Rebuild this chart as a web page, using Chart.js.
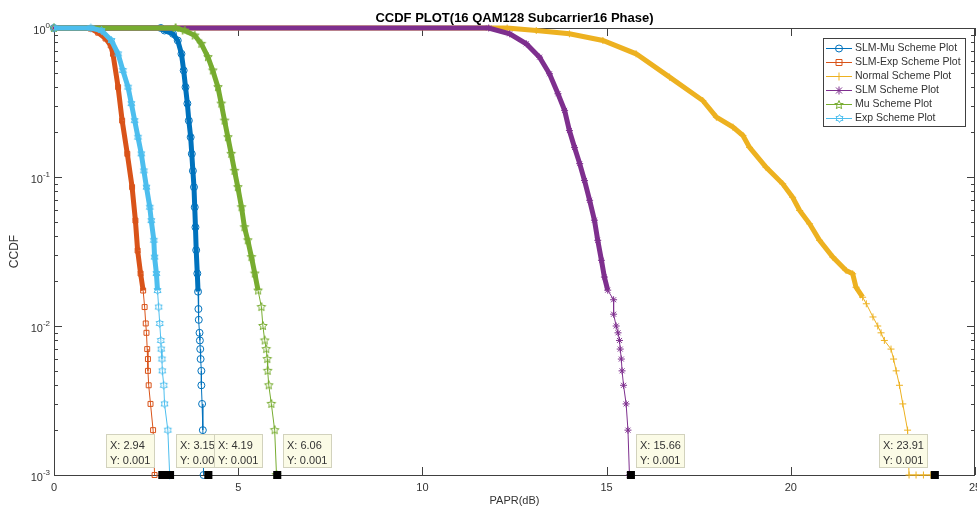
<!DOCTYPE html>
<html>
<head>
<meta charset="utf-8">
<title>CCDF PLOT</title>
<script src="https://cdn.jsdelivr.net/npm/chart.js"></script>
<style>
  html, body { margin: 0; padding: 0; background: #fff; }
  #chart { display: block; }
</style>
</head>
<body>
<canvas id="chart" width="977" height="512"></canvas>
<script>
// Values (PAPR in dB, CCDF as probability)
const seriesNames = ['SLM-Mu Scheme Plot', 'SLM-Exp Scheme Plot', 'Normal Scheme Plot',
                     'SLM Scheme Plot', 'Mu Scheme Plot', 'Exp Scheme Plot'];

const slmMuX = [0, 2.9, 3.00, 3.23, 3.36, 3.46, 3.52, 3.57, 3.62, 3.66, 3.71, 3.74, 3.77, 3.80, 3.82, 3.84,
                3.86, 3.89, 3.91, 3.92, 3.93, 3.95, 3.96, 3.97, 3.98, 4.00, 4.00, 4.02, 4.04, 4.06];
const slmMuY = [1, 1, 0.962, 0.914, 0.824, 0.671, 0.519, 0.401, 0.311, 0.239, 0.185, 0.143, 0.11, 0.0855, 0.0627, 0.046,
                0.0323, 0.0225, 0.017, 0.013, 0.011, 0.009, 0.008, 0.007, 0.006, 0.005, 0.004, 0.003, 0.002, 0.001];

const slmExpX = [0, 0.9, 1.0, 1.2, 1.4, 1.54, 1.60, 1.74, 1.85, 1.99, 2.12, 2.21, 2.27, 2.35, 2.42, 2.46,
                 2.49, 2.51, 2.53, 2.55, 2.55, 2.57, 2.62, 2.69, 2.73];
const slmExpY = [1, 1, 0.99, 0.93, 0.85, 0.763, 0.671, 0.401, 0.239, 0.143, 0.0855, 0.051, 0.0321, 0.0225, 0.0173, 0.0134,
                 0.0104, 0.009, 0.007, 0.006, 0.005, 0.004, 0.003, 0.002, 0.001];

const normalX = [0, 12.3, 13.09, 13.99, 14.90, 15.80, 16.71, 17.61, 17.98, 18.43, 18.70, 18.88, 19.33, 19.78, 20.05,
                 20.24, 20.51, 20.78, 21.14, 21.50, 21.68, 21.77, 21.95, 22.05, 22.23, 22.36, 22.45, 22.54, 22.72,
                 22.79, 22.86, 22.95, 23.04, 23.17, 23.21, 23.40, 23.60, 23.80];
const normalY = [1, 1, 0.962, 0.914, 0.824, 0.671, 0.468, 0.326, 0.252, 0.216, 0.19, 0.158, 0.116, 0.09, 0.0731,
                 0.0596, 0.0485, 0.0376, 0.029, 0.0236, 0.0224, 0.0182, 0.0156, 0.0141, 0.0115, 0.01, 0.009, 0.008, 0.007,
                 0.006, 0.005, 0.004, 0.003, 0.002, 0.001, 0.001, 0.001, 0.001];

const slmX = [0, 11.8, 12.37, 12.82, 13.18, 13.45, 13.68, 13.86, 13.99, 14.13, 14.27, 14.40, 14.54, 14.67, 14.76,
              14.86, 14.94, 15.03, 15.19, 15.19, 15.26, 15.31, 15.35, 15.37, 15.40, 15.42, 15.46, 15.53, 15.58, 15.62];
const slmY = [1, 1, 0.914, 0.783, 0.637, 0.493, 0.362, 0.28, 0.205, 0.158, 0.123, 0.0948, 0.0698, 0.0513, 0.0376,
              0.0276, 0.0213, 0.0174, 0.015, 0.012, 0.01, 0.009, 0.008, 0.007, 0.006, 0.005, 0.004, 0.003, 0.002, 0.001];

const muX = [0, 3.3, 3.55, 3.82, 4.00, 4.18, 4.31, 4.45, 4.54, 4.63, 4.72, 4.81, 4.90, 4.99, 5.09, 5.17,
             5.26, 5.36, 5.45, 5.54, 5.63, 5.67, 5.72, 5.76, 5.79, 5.80, 5.83, 5.90, 5.99, 6.04];
const muY = [1, 1, 0.962, 0.89, 0.783, 0.637, 0.519, 0.401, 0.311, 0.239, 0.185, 0.143, 0.11, 0.0855, 0.0627, 0.046,
             0.0376, 0.029, 0.0225, 0.0173, 0.0134, 0.01, 0.008, 0.007, 0.006, 0.005, 0.004, 0.003, 0.002, 0.001];

const expX = [0, 1.0, 1.29, 1.56, 1.74, 1.87, 2.01, 2.10, 2.19, 2.28, 2.37, 2.44, 2.51, 2.60, 2.64, 2.71,
              2.73, 2.78, 2.81, 2.84, 2.87, 2.90, 2.91, 2.93, 2.94, 2.98, 3.00, 3.09, 3.14];
const expY = [1, 1, 0.962, 0.824, 0.671, 0.519, 0.401, 0.311, 0.239, 0.185, 0.143, 0.11, 0.0855, 0.0627, 0.051, 0.0376,
              0.029, 0.0225, 0.0173, 0.0134, 0.0104, 0.008, 0.007, 0.006, 0.005, 0.004, 0.003, 0.002, 0.001];

// data tips shown on the figure
const tipX = [2.94, 3.15, 4.19, 6.06, 15.66, 23.91];
const tipY = [0.001, 0.001, 0.001, 0.001, 0.001, 0.001];

const xTickValues = [0, 5, 10, 15, 20, 25];
const yDecades = [1, 0.1, 0.01, 0.001];
const yExponents = ['0', '-1', '-2', '-3'];

// Styles (MATLAB default colour order)
const colors = ['#0072BD', '#D95319', '#EDB120', '#7E2F8E', '#77AC30', '#4DBEEE'];
const tipSide = ['left', 'right', 'right', 'right', 'right', 'left'];
const FONT = '"Liberation Sans", Arial, Helvetica, sans-serif';
const AXIS_COLOR = '#404040';
const TEXT_COLOR = '#333333';

function start() {
    // small outlined star image used as a point style (pentagram / hexagram)
    function makeStar(n, color, outer, innerRatio) {
        const size = Math.ceil(outer * 2 + 3);
        const c = document.createElement('canvas');
        c.width = size;
        c.height = size;
        const g = c.getContext('2d');
        g.strokeStyle = color;
        g.lineWidth = 1;
        g.beginPath();
        for (let i = 0; i < n * 2; i++) {
            const r = i % 2 === 0 ? outer : outer * innerRatio;
            const a = -Math.PI / 2 + i * Math.PI / n;
            const px = size / 2 + r * Math.cos(a);
            const py = size / 2 + r * Math.sin(a);
            if (i === 0) g.moveTo(px, py); else g.lineTo(px, py);
        }
        g.closePath();
        g.stroke();
        return c;
    }

    const pentagram = makeStar(5, colors[4], 4.5, 0.45);
    const hexagram = makeStar(6, colors[5], 4, 0.6);
    const markers = ['circle', 'rect', 'cross', 'star', pentagram, hexagram];
    // MATLAB draws later lines on top; in Chart.js lower order is drawn on top
    const drawOrder = [6, 5, 4, 3, 2, 1];

    function points(xs, ys) {
        return xs.map((x, i) => ({ x: x, y: ys[i] }));
    }

    function series(i, xs, ys) {
        return {
            label: seriesNames[i],
            data: points(xs, ys),
            showLine: true,
            borderColor: colors[i],
            borderWidth: 1,
            pointStyle: markers[i],
            pointRadius: 3.5,
            pointBorderColor: colors[i],
            pointBackgroundColor: 'rgba(0,0,0,0)',
            pointBorderWidth: 1,
            order: drawOrder[i],
            clip: false,
            // dense marker band where samples crowd together
            segment: {
                borderWidth: ctx => (ctx.p0.parsed.y > 0.015 && ctx.p1.parsed.y > 0.015) ? 5 : 1
            }
        };
    }

    // Frame, inward ticks and tick labels like a MATLAB axes
    const axesPlugin = {
        id: 'matlabAxes',
        beforeDatasetsDraw(chart) {
            const ctx = chart.ctx;
            const a = chart.chartArea;
            const xs = chart.scales.x;
            const ys = chart.scales.y;
            ctx.save();
            ctx.strokeStyle = AXIS_COLOR;
            ctx.lineWidth = 1;
            ctx.strokeRect(Math.round(a.left) + 0.5, Math.round(a.top) + 0.5,
                Math.round(a.right - a.left) - 1, Math.round(a.bottom - a.top));
            ctx.beginPath();
            xTickValues.forEach(v => {
                const px = Math.round(xs.getPixelForValue(v)) + 0.5;
                ctx.moveTo(px, a.bottom); ctx.lineTo(px, a.bottom - 8);
                ctx.moveTo(px, a.top); ctx.lineTo(px, a.top + 8);
            });
            yDecades.forEach((d, i) => {
                for (let m = 1; m <= 9; m++) {
                    const v = d * m;
                    if (v > 1.0001 || (m > 1 && i === 0)) continue;
                    const py = Math.round(ys.getPixelForValue(v)) + 0.5;
                    const len = m === 1 ? 8 : 4;
                    ctx.moveTo(a.left, py); ctx.lineTo(a.left + len, py);
                    ctx.moveTo(a.right, py); ctx.lineTo(a.right - len, py);
                }
            });
            ctx.stroke();

            // x tick labels
            ctx.fillStyle = TEXT_COLOR;
            ctx.textAlign = 'center';
            ctx.textBaseline = 'middle';
            ctx.font = '11px ' + FONT;
            xTickValues.forEach(v => {
                ctx.fillText(String(v), xs.getPixelForValue(v), a.bottom + 13);
            });

            // y tick labels with superscript exponent
            ctx.textAlign = 'right';
            yDecades.forEach((d, i) => {
                const py = ys.getPixelForValue(d);
                ctx.font = '8px ' + FONT;
                const ew = ctx.measureText(yExponents[i]).width;
                ctx.fillText(yExponents[i], 50, py - 2);
                ctx.font = '11px ' + FONT;
                ctx.fillText('10', 50 - ew, py + 3);
            });
            ctx.restore();
        },
        afterDraw(chart) {
            const ctx = chart.ctx;
            const a = chart.chartArea;
            const xs = chart.scales.x;
            const ys = chart.scales.y;
            const cx = (a.left + a.right) / 2;
            ctx.save();

            // title and axis labels
            ctx.fillStyle = '#000';
            ctx.textAlign = 'center';
            ctx.textBaseline = 'middle';
            ctx.font = 'bold 13px ' + FONT;
            ctx.fillText('CCDF PLOT(16 QAM128 Subcarrier16 Phase)', cx, 18);
            ctx.fillStyle = TEXT_COLOR;
            ctx.font = '11px ' + FONT;
            ctx.fillText('PAPR(dB)', cx, 501);
            ctx.save();
            ctx.translate(15, (a.top + a.bottom) / 2);
            ctx.rotate(-Math.PI / 2);
            ctx.font = '12px ' + FONT;
            ctx.fillText('CCDF', 0, 0);
            ctx.restore();

            // data tip boxes
            tipX.forEach((tx, i) => {
                const px = xs.getPixelForValue(tx);
                const py = ys.getPixelForValue(tipY[i]);
                const w = 49, h = 34;
                const left = Math.round(tipSide[i] === 'left' ? px - 7 - w : px + 5.5);
                const top = Math.round(py - 41);
                ctx.fillStyle = '#fbfbe6';
                ctx.fillRect(left, top, w, h);
                ctx.strokeStyle = '#d2d2bd';
                ctx.lineWidth = 1;
                ctx.strokeRect(left + 0.5, top + 0.5, w - 1, h - 1);
                ctx.fillStyle = TEXT_COLOR;
                ctx.textAlign = 'left';
                ctx.textBaseline = 'middle';
                ctx.font = '11px ' + FONT;
                ctx.fillText('X: ' + tx, left + 4, top + 11.5);
                ctx.fillText('Y: ' + tipY[i], left + 4, top + 26.5);
            });

            // legend box
            const lx = 823.5, ly = 38.5, lw = 142, lh = 88;
            ctx.fillStyle = '#fff';
            ctx.fillRect(lx, ly, lw, lh);
            ctx.strokeStyle = AXIS_COLOR;
            ctx.strokeRect(lx, ly, lw, lh);
            seriesNames.forEach((name, i) => {
                const y = 48.5 + i * 14;
                ctx.strokeStyle = colors[i];
                ctx.lineWidth = 1;
                ctx.beginPath();
                ctx.moveTo(826, y); ctx.lineTo(852, y);
                ctx.stroke();
                drawMarker(ctx, markers[i], 839, y, colors[i]);
                ctx.fillStyle = TEXT_COLOR;
                ctx.textAlign = 'left';
                ctx.textBaseline = 'middle';
                ctx.font = '10.5px ' + FONT;
                ctx.fillText(name, 855, y);
            });
            ctx.restore();
        }
    };

    function drawMarker(g, style, x, y, color) {
        if (style instanceof HTMLCanvasElement) {
            g.drawImage(style, Math.round(x - style.width / 2), Math.round(y - style.height / 2));
            return;
        }
        g.strokeStyle = color;
        g.lineWidth = 1;
        g.beginPath();
        if (style === 'circle') {
            g.arc(x, y, 3.5, 0, 2 * Math.PI);
        } else if (style === 'rect') {
            g.rect(x - 3, y - 3, 6, 6);
        } else {
            g.moveTo(x - 4, y); g.lineTo(x + 4, y);
            g.moveTo(x, y - 4); g.lineTo(x, y + 4);
            if (style === 'star') {
                g.moveTo(x - 3, y - 3); g.lineTo(x + 3, y + 3);
                g.moveTo(x - 3, y + 3); g.lineTo(x + 3, y - 3);
            }
        }
        g.stroke();
    }

    const datasets = [
        series(0, slmMuX, slmMuY),
        series(1, slmExpX, slmExpY),
        series(2, normalX, normalY),
        series(3, slmX, slmY),
        series(4, muX, muY),
        series(5, expX, expY),
        {
            label: 'tips',
            data: points(tipX, tipY),
            showLine: false,
            pointStyle: 'rect',
            pointRadius: 5.7,
            pointBackgroundColor: '#000',
            pointBorderColor: '#000',
            pointBorderWidth: 0,
            order: 0,
            clip: false
        }
    ];

    const ctx = document.getElementById('chart').getContext('2d');
    new Chart(ctx, {
        type: 'scatter',
        data: { datasets: datasets },
        options: {
            responsive: false,
            animation: false,
            events: [],
            layout: { autoPadding: false, padding: { top: 28, right: 2, bottom: 0, left: 0 } },
            plugins: {
                legend: { display: false },
                title: { display: false },
                tooltip: { enabled: false }
            },
            scales: {
                x: {
                    type: 'linear',
                    min: 0,
                    max: 25,
                    grid: { display: false, drawTicks: false },
                    border: { display: false },
                    ticks: { display: false, stepSize: 5 },
                    afterFit: s => { s.height = 37; }
                },
                y: {
                    type: 'logarithmic',
                    min: 0.001,
                    max: 1,
                    grid: { display: false, drawTicks: false },
                    border: { display: false },
                    ticks: { display: false },
                    afterFit: s => { s.width = 54; }
                }
            }
        },
        plugins: [axesPlugin]
    });
}

window.addEventListener('load', start, false);
</script>
</body>
</html>
